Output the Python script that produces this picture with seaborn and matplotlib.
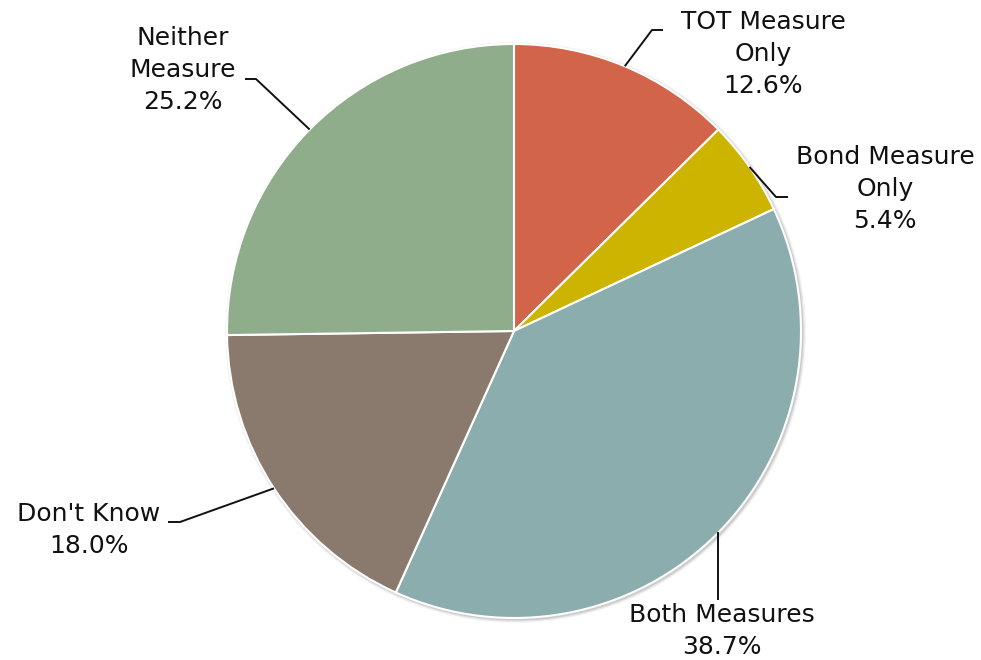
import numpy as np
import matplotlib
matplotlib.use("Agg")
import matplotlib.pyplot as plt
import seaborn as sns
from matplotlib.patches import Circle

categories = ["TOT Measure\nOnly", "Bond Measure\nOnly", "Both Measures", "Don't Know", "Neither\nMeasure"]
values = [12.6, 5.4, 38.7, 18.0, 25.2]
colors = ["#D2644A", "#CDB400", "#8CADAD", "#8A7A6E", "#8FAD8B"]

# label layout in pixel coords (x, y from top)
label_pos = [(763, 54), (885, 189), (722, 631), (89, 530), (183, 70)]
elbows = [[(652, 30), (663, 30)],
          [(776, 197), (788, 197)],
          [None],
          [(180, 522), (168, 522)],
          [(256, 79), (245, 79)]]

W, H = 981, 660
sns.set_theme(style="white")
plt.rcParams['font.family'] = ['DejaVu Sans']

fig = plt.figure(figsize=(W / 100, H / 100), dpi=100)
ax = fig.add_axes([0, 0, 1, 1])

cx, cy, r = 514, H - 331, 287

# subtle shadow
for i, a in enumerate([0.10, 0.07, 0.04]):
    ax.add_patch(Circle((cx + 1.5, cy - 1.5), r + 1 + i * 1.2, color="#000000", alpha=a, lw=0, zorder=0))

wedges, _ = ax.pie(values, colors=colors, startangle=90, counterclock=False,
                   center=(cx, cy), radius=r, frame=True,
                   wedgeprops=dict(edgecolor="white", linewidth=1.5))
ax.set_xlim(0, W)
ax.set_ylim(0, H)
ax.set_aspect('equal')
ax.axis('off')

for w, cat, v, (lx, ly), el in zip(wedges, categories, values, label_pos, elbows):
    ang = np.deg2rad((w.theta1 + w.theta2) / 2)
    ex, ey = cx + r * np.cos(ang), cy + r * np.sin(ang)
    if el[0] is None:
        xs = [ex, ex]
        ys = [ey, H - 600]
    else:
        xs = [ex] + [p[0] for p in el]
        ys = [ey] + [H - p[1] for p in el]
    ax.plot(xs, ys, color="#111111", lw=1.4, zorder=5, solid_capstyle='butt')
    ax.text(lx, H - ly, f"{cat}\n{v:.1f}%", ha='center', va='center',
            multialignment='center', fontsize=18, color="#111111", linespacing=1.4)

fig.savefig("out.png", dpi=100)
